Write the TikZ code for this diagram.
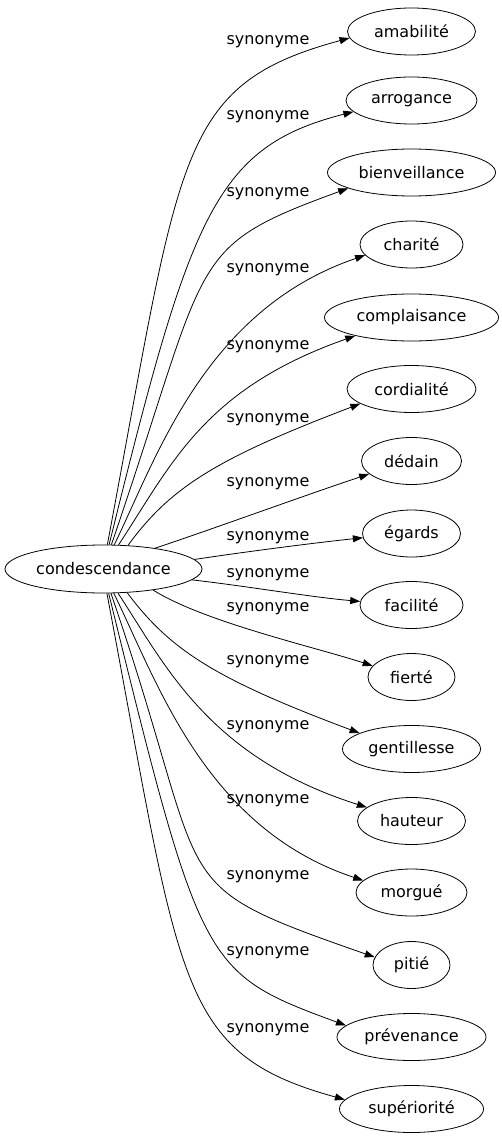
\documentclass[tikz,border=0pt]{standalone}
\usepackage{fontspec}
\setmainfont{DejaVu Sans}
\usetikzlibrary{shapes.geometric,arrows.meta}
\begin{document}
\begin{tikzpicture}[x=1pt,y=-1pt,
  every node/.style={font=\fontsize{16}{19}\selectfont, text=black},
  word/.style={ellipse, draw, line width=0.8pt, inner sep=0pt, minimum height=47pt},
  lab/.style={inner sep=0pt, text height=8.8pt, text depth=3.8pt},
  edge/.style={draw, line width=0.8pt, -{Triangle[length=10pt,width=7pt]}}]
\useasboundingbox (0,0) rectangle (502,1139);
\node[word, minimum width=197pt, minimum height=48pt] (src) at (103.5,569) {condescendance};
\foreach \i/\y/\w/\t in {
 1/31.5/128/amabilité,
 2/100.5/131/arrogance,
 3/172.5/168/bienveillance,
 4/244.5/103/charité,
 5/317.5/174/complaisance,
 6/389/129/cordialité,
 7/461/100/dédain,
 8/533.5/98/égards,
 9/605/103/facilité,
 10/677/87/fierté,
 11/749/138/gentillesse,
 12/821/108/hauteur,
 13/892.5/111/morgué,
 14/965/77/pitié,
 15/1037/149/prévenance,
 16/1109/144/supériorité}
 {\node[word, minimum width=\w pt] (t\i) at (411.5,\y) {\t};}
\foreach \i/\y in {1/42,2/117,3/194,4/270,5/347,6/420,7/484,8/538,9/575,10/609,11/662,12/727,13/801,14/877,15/953,16/1030}
 {\node[lab] (l\i) at (268,\y) {synonyme};}
\foreach \i/\sa/\ta/\ax/\ay/\bx/\by in {
 1/81.7/186/181/153/176/85,
 2/77.1/191.5/190/217/214/147,
 3/72.6/194.4/211/254/184/248,
 4/66.4/193.6/157/457/205/310,
 5/58.6/198.9/172/463.5/204/389,
 6/44.8/196.6/170/488/215/459,
 7/22.7/197.1/210/530/300/497,
 8/6.9/185.2/244/552/313/543,
 9/353.1/176.7/246/586/310/597,
 10/337.3/164.4/204/622/315/647,
 11/315.2/163.2/170/650/215/679,
 12/301.4/163.7/165/664.5/208/757,
 13/293.6/166.9/157/681/205/828,
 14/287.4/168.3/215/896/157/881,
 15/282.9/170.6/201/968/203/973,
 16/278.3/172.5/181/985/176/1053}
 {\draw[edge] (src.\sa) .. controls (\ax,\ay) and (\bx,\by) .. (t\i.\ta);}
\end{tikzpicture}
\end{document}
